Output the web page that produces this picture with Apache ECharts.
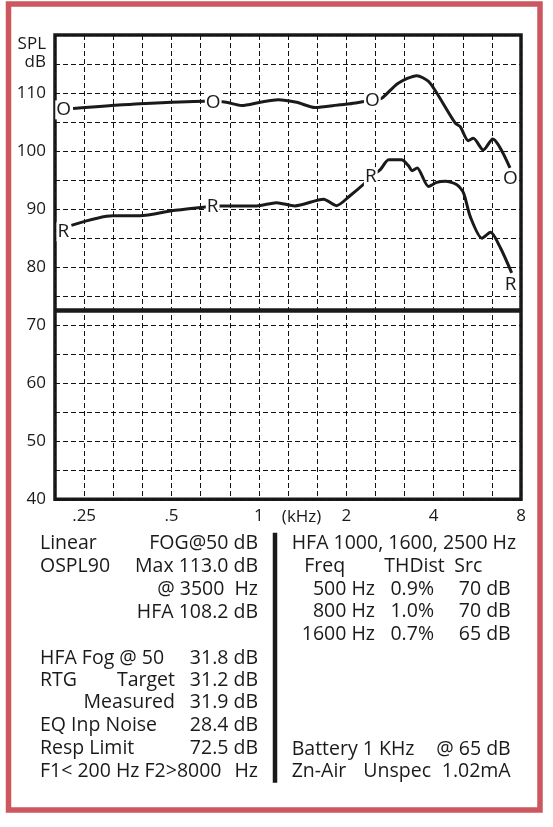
<!DOCTYPE html>
<html>
<head>
<meta charset="utf-8">
<script src="https://cdn.jsdelivr.net/npm/echarts@6/dist/echarts.min.js"></script>
<style>
html,body{margin:0;padding:0;background:#fff;}
#chart{width:553px;height:827px;}
</style>
</head>
<body>
<div id="chart"></div>
<script>
// ---------- data ----------
// OSPL90 curve (kHz, dB SPL)
const oFreq = [0.229, 0.389, 0.651, 0.696, 0.75, 0.872, 1.01, 1.165, 1.35, 1.56, 1.90, 2.06, 2.32, 2.46, 2.65, 3.02, 3.50, 3.84, 4.10, 4.75, 4.94, 5.26, 5.48, 5.93, 6.39, 7.33];
const oDb   = [107.35, 108.15, 108.6, 108.5, 108.5, 107.85, 108.4, 108.85, 108.4, 107.5, 107.98, 108.15, 108.55, 108.7, 109.1, 111.7, 113.0, 112.0, 110.0, 104.8, 104.2, 101.8, 102.2, 100.2, 102.1, 97.1];
// Response curve at 50 dB input
const rFreq = [0.226, 0.314, 0.389, 0.507, 0.651, 0.693, 0.734, 0.982, 1.15, 1.33, 1.67, 1.85, 2.06, 2.32, 2.43, 2.62, 2.80, 3.10, 3.28, 3.37, 3.51, 3.84, 4.10, 4.39, 4.81, 5.07, 5.35, 5.87, 6.28, 6.80, 7.43];
const rDb   = [87.2, 88.85, 88.85, 89.75, 90.35, 90.45, 90.55, 90.55, 91.1, 90.55, 91.7, 90.6, 92.3, 94.5, 95.6, 96.8, 98.5, 98.5, 97.45, 96.6, 97.1, 93.9, 94.6, 94.8, 94.2, 92.8, 88.7, 85.0, 86.0, 83.3, 79.0];
// curve letter markers
const oMarkFreq = [0.2125, 0.696, 2.46, 7.36];
const oMarkDb   = [107.1, 108.4, 108.7, 95.3];
const rMarkFreq = [0.212, 0.693, 2.43, 7.37];
const rMarkDb   = [86.1, 90.45, 95.6, 77.0];
// response limit line
const respLimit = 72.5;
// axis tick labels
const xTickFreqs  = [0.25, 0.5, 1, 2, 4, 8];
const xTickLabels = ['.25', '.5', '1', '2', '4', '8'];
const yTickLabels = [40, 50, 60, 70, 80, 90, 100, 110];
// text table
const leftRowsLeft  = ['Linear', 'OSPL90', '', '', 'HFA Fog @ 50', 'RTG', '', 'EQ Inp Noise', 'Resp Limit', 'F1< 200 Hz F2>8000'];
const leftRowsMid   = ['', '', '', '', '', 'Target', 'Measured', '', '', ''];
const leftRowsRight = ['FOG@50 dB', 'Max 113.0 dB', '@ 3500  Hz', 'HFA 108.2 dB', '31.8 dB', '31.2 dB', '31.9 dB', '28.4 dB', '72.5 dB', 'Hz'];
const hfaTitle = 'HFA 1000, 1600, 2500 Hz';
const distHeader = ['Freq', 'THDist', 'Src'];
const distFreq = ['500 Hz', '800 Hz', '1600 Hz'];
const distThd  = ['0.9%', '1.0%', '0.7%'];
const distSrc  = ['70 dB', '70 dB', '65 dB'];
const batteryRow1 = ['Battery 1 KHz', '@ 65 dB'];
const batteryRow2 = ['Zn-Air', 'Unspec', '1.02mA'];

// ---------- helpers ----------
const toU = f => 3 * Math.log2(f);            // third-octaves re 1 kHz
const pairs = (fs, ds) => fs.map((f, i) => [toU(f), ds[i]]);
const FONT = '"Open Sans", "Noto Sans", sans-serif';
const INK = '#1a1a1a';
function txt(str, x, y, align, size) {
  return {
    type: 'text', x: x, y: y, silent: true,
    style: {
      text: str, fill: INK, font: (size || 19.5) + 'px ' + FONT,
      align: align, textAlign: align,
      verticalAlign: 'middle', textVerticalAlign: 'middle'
    }
  };
}

const tickMap = {};
xTickFreqs.forEach((f, i) => { tickMap[Math.round(toU(f))] = xTickLabels[i]; });

// ---------- graphics (frame + text) ----------
const graphics = [];
graphics.push({ type: 'rect', silent: true, z: -1,
  shape: { x: 8.5, y: 4, width: 531.5, height: 806 },
  style: { fill: 'none', stroke: '#cd575f', lineWidth: 5.5 } });
graphics.push(txt('SPL', 46, 44, 'right', 17));
graphics.push(txt('dB', 46, 62.5, 'right', 17));
graphics.push(txt('(kHz)', 301.6, 517, 'center', 17));

const leftY = [543.3, 566.3, 589, 612, 658, 680.7, 702.7, 725.7, 748.3, 771.7];
leftY.forEach((y, i) => {
  if (leftRowsLeft[i]) graphics.push(txt(leftRowsLeft[i], 40, y, 'left'));
  if (leftRowsMid[i]) graphics.push(txt(leftRowsMid[i], 175, y, 'right'));
  if (leftRowsRight[i]) graphics.push(txt(leftRowsRight[i], 258, y, 'right'));
});
graphics.push({ type: 'line', silent: true,
  shape: { x1: 275, y1: 532.7, x2: 275, y2: 782.7 },
  style: { stroke: INK, lineWidth: 4.5 } });
graphics.push(txt(hfaTitle, 291.7, 543.3, 'left'));
graphics.push(txt(distHeader[0], 304.3, 566, 'left'));
graphics.push(txt(distHeader[1], 384.3, 566, 'left'));
graphics.push(txt(distHeader[2], 454.3, 566, 'left'));
const distY = [589, 611.7, 634];
distY.forEach((y, i) => {
  graphics.push(txt(distFreq[i], 375, y, 'right'));
  graphics.push(txt(distThd[i], 434, y, 'right'));
  graphics.push(txt(distSrc[i], 510.7, y, 'right'));
});
graphics.push(txt(batteryRow1[0], 291.7, 749.3, 'left'));
graphics.push(txt(batteryRow1[1], 510.7, 749.3, 'right'));
graphics.push(txt(batteryRow2[0], 291.7, 771.7, 'left'));
graphics.push(txt(batteryRow2[1], 363.3, 771.7, 'left'));
graphics.push(txt(batteryRow2[2], 510.7, 771.7, 'right'));

// ---------- chart ----------
const chart = echarts.init(document.getElementById('chart'), null, { renderer: 'canvas' });
const letterLabel = (ch) => ({
  show: true, position: 'inside', formatter: ch,
  color: INK, fontSize: 19, fontFamily: FONT,
  textBorderWidth: 0, opacity: 1,
  backgroundColor: '#fff', padding: [0, 1]
});
chart.setOption({
  animation: false,
  backgroundColor: '#fff',
  grid: { left: 55, right: 32, top: 35, bottom: 327.7, show: true,
          borderColor: INK, borderWidth: 3.5, backgroundColor: 'transparent' },
  xAxis: {
    type: 'value', min: -7, max: 9, interval: 1,
    axisLine: { show: false }, axisTick: { show: false },
    axisLabel: { color: INK, fontSize: 17, fontFamily: FONT, margin: 8,
      formatter: v => tickMap[Math.round(v)] || '' },
    splitLine: { show: true, lineStyle: { color: '#111', width: 1, type: [5, 3] } }
  },
  yAxis: {
    type: 'value', min: 40, max: 120, interval: 5,
    axisLine: { show: false }, axisTick: { show: false },
    axisLabel: { color: INK, fontSize: 17, fontFamily: FONT, margin: 9,
      formatter: v => (yTickLabels.indexOf(v) >= 0 ? String(v) : '') },
    splitLine: { show: true, lineStyle: { color: '#111', width: 1, type: [5, 3] } }
  },
  graphic: { elements: graphics },
  series: [
    { type: 'line', name: 'OSPL90', data: pairs(oFreq, oDb), smooth: 0.25,
      symbol: 'none', lineStyle: { color: INK, width: 3 }, z: 3,
      markLine: { silent: true, symbol: ['none', 'none'], label: { show: false },
        lineStyle: { color: INK, width: 4.5, type: 'solid' },
        data: [{ yAxis: respLimit }] } },
    { type: 'line', name: 'Response', data: pairs(rFreq, rDb), smooth: 0.25,
      symbol: 'none', lineStyle: { color: INK, width: 3 }, z: 3 },
    { type: 'scatter', data: pairs(oMarkFreq, oMarkDb), symbolSize: 0,
      itemStyle: { color: INK, opacity: 1 }, label: letterLabel('O'), z: 6 },
    { type: 'scatter', data: pairs(rMarkFreq, rMarkDb), symbolSize: 0,
      itemStyle: { color: INK, opacity: 1 }, label: letterLabel('R'), z: 6 }
  ]
});
</script>
</body>
</html>
